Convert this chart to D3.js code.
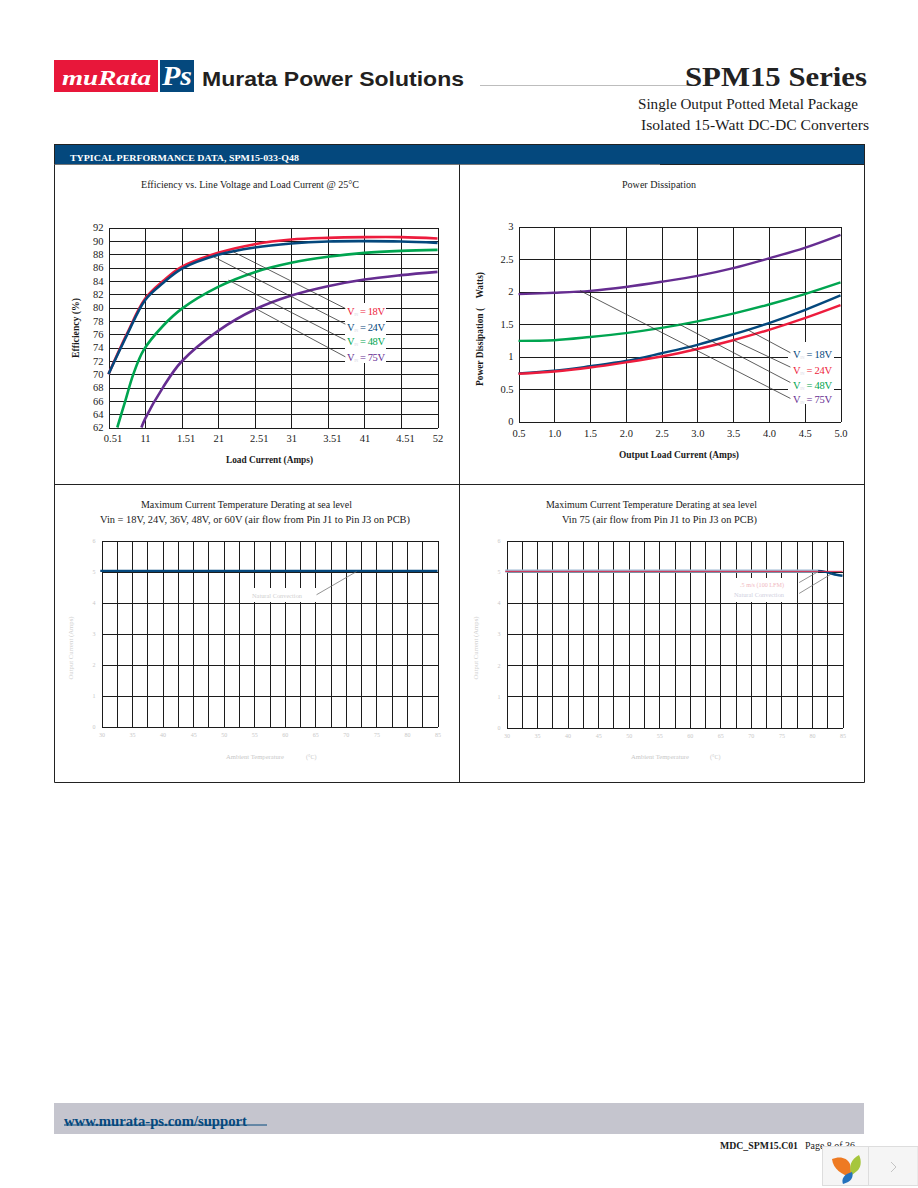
<!DOCTYPE html>
<html>
<head>
<meta charset="utf-8">
<script src="https://cdn.jsdelivr.net/npm/d3@7"></script>
<style>
  body { margin: 0; background: #fff; }
  svg { display: block; }
  text { font-family: "Liberation Serif", serif; fill: #1a1a1a; }
  .grid line { stroke: #1c1c1c; stroke-width: 1; shape-rendering: crispEdges; }
  .grid path { stroke: #1c1c1c; stroke-width: 1; shape-rendering: crispEdges; }
</style>
</head>
<body>
<div id="page"></div>
<script>
// efficiency chart
var effX = [0.5, 0.75, 1, 1.25, 1.5, 2, 2.5, 3, 3.5, 4, 4.5, 5];
var eff18 = [70, 76, 81.3, 84, 86.1, 88.2, 89.5, 90.2, 90.45, 90.55, 90.55, 90.35];
var eff24 = [70, 75.8, 81.1, 83.7, 85.8, 87.9, 89, 89.6, 89.9, 89.95, 89.9, 89.7];
var eff48X = [0.62, 0.73, 0.84, 0.98, 1.25, 1.5, 2, 2.5, 3, 3.5, 4, 4.5, 5];
var eff48 = [62, 66, 70, 73.6, 77.3, 79.8, 83.1, 85.3, 86.7, 87.6, 88.2, 88.5, 88.65];
var eff75X = [0.95, 1, 1.25, 1.5, 2, 2.5, 3, 3.5, 4, 4.5, 5];
var eff75 = [62, 63.3, 68.1, 71.9, 76.5, 79.7, 81.8, 83.2, 84.2, 84.85, 85.35];
var effXTicks = [0.5, 1, 1.5, 2, 2.5, 3, 3.5, 4, 4.5, 5];
var effXLabels = ["0.51", "11", "1.51", "21", "2.51", "31", "3.51", "41", "4.51", "52"];
var effYTicks = [62, 64, 66, 68, 70, 72, 74, 76, 78, 80, 82, 84, 86, 88, 90, 92];

// leader lines as [x1, y1, x2, y2] in chart units
var effLeaders = [
  [2.21, 88.34, 3.74, 79.85],
  [1.94, 87.59, 3.74, 77.5],
  [2.14, 84.1, 3.74, 75.1],
  [2.51, 79.85, 3.74, 72.6]
];

// power dissipation chart
var powX = [0.5, 1, 1.5, 2, 2.5, 3, 3.5, 4, 4.5, 5];
var pow18 = [0.74, 0.78, 0.85, 0.93, 1.05, 1.18, 1.34, 1.515, 1.715, 1.94];
var pow24 = [0.735, 0.77, 0.83, 0.91, 1.0, 1.115, 1.25, 1.41, 1.59, 1.79];
var pow48 = [1.24, 1.25, 1.3, 1.36, 1.44, 1.54, 1.66, 1.8, 1.96, 2.14];
var pow75 = [1.96, 1.98, 2.01, 2.07, 2.15, 2.24, 2.36, 2.51, 2.67, 2.87];
var powXLabels = ["0.5", "1.0", "1.5", "2.0", "2.5", "3.0", "3.5", "4.0", "4.5", "5.0"];
var powYTicks = [0, 0.5, 1, 1.5, 2, 2.5, 3];
var powYLabels = ["0", "0.5", "1", "1.5", "2", "2.5", "3"];
var powLeaders = [
  [3.69, 1.418, 4.3, 1.058],
  [3.5, 1.253, 4.3, 0.837],
  [2.74, 1.5, 4.3, 0.6],
  [1.36, 2.013, 4.3, 0.355]
];

// derating charts
var tempGrid = [30, 32.5, 35, 37.5, 40, 42.5, 45, 47.5, 50, 52.5, 55, 57.5, 60, 62.5, 65, 67.5, 70, 72.5, 75, 77.5, 80, 82.5, 85];
var tempLabels = ["30", "35", "40", "45", "50", "55", "60", "65", "70", "75", "80", "85"];
var ampTicks = [0, 1, 2, 3, 4, 5, 6];
var derateX = [29.8, 85];
var derateY = [5.02, 5.02];
var derate75X = [29.8, 81];
var derate75Y = [5.02, 5.02];
var derateTailX = [81, 82, 83, 84, 85];
var derateTailY = [5.02, 5, 4.95, 4.9, 4.87];
var derateAirX = [29.8, 85];
var derateAirY = [5.01, 5.01];
var derateLeaders = [[65.2, 4.25, 71.76, 5.0]];
var derate75Leaders = [
  [77.9, 4.65, 81, 5.0],
  [77.9, 4.3, 83.2, 4.93]
];

var red = "#ed1c3d";
var blue = "#04487d";
var green = "#00a550";
var purple = "#662d91";

var svg = d3.select("#page")
  .append("svg")
  .attr("width", 918)
  .attr("height", 1188);

// small helper so text can be fitted to the width it has in the scan
function addText(parent, str, x, y, size, opts) {
  opts = opts || {};
  var t = parent.append("text")
    .attr("x", x)
    .attr("y", y)
    .attr("font-size", size)
    .text(str);
  if (opts.bold) t.attr("font-weight", "bold");
  if (opts.italic) t.attr("font-style", "italic");
  if (opts.fill) t.style("fill", opts.fill);
  if (opts.family) t.style("font-family", opts.family);
  if (opts.anchor) t.attr("text-anchor", opts.anchor);
  if (opts.width) t.attr("textLength", opts.width).attr("lengthAdjust", "spacingAndGlyphs");
  return t;
}

// page head
svg.append("rect").attr("x", 54).attr("y", 60).attr("width", 104).attr("height", 32).attr("fill", "#e8173a");
svg.append("rect").attr("x", 160).attr("y", 60).attr("width", 34).attr("height", 32).attr("fill", "#04487d");
addText(svg, "muRata", 62, 85, 22, { bold: true, italic: true, fill: "#fff", width: 89 });
addText(svg, "Ps", 162, 85, 28, { bold: true, italic: true, fill: "#fff", width: 30 });
addText(svg, "Murata Power Solutions", 202, 86, 21, { bold: true, fill: "#231f20", family: "'Liberation Sans', sans-serif", width: 262 });

svg.append("line").attr("x1", 480).attr("x2", 690).attr("y1", 85.5).attr("y2", 85.5).attr("stroke", "#bdbdbd");
addText(svg, "SPM15 Series", 685, 86, 28, { bold: true, fill: "#222", width: 182 });
addText(svg, "Single Output Potted Metal Package", 638, 109, 14.5, { width: 220 });
addText(svg, "Isolated 15-Watt DC-DC Converters", 641, 130, 14.5, { width: 228 });

// frame and header bar
svg.append("rect").attr("x", 54.5).attr("y", 144.5).attr("width", 810).attr("height", 20).attr("fill", "#04487d").attr("stroke", "#222");
svg.append("line").attr("x1", 54).attr("x2", 660).attr("y1", 164.5).attr("y2", 164.5).attr("stroke", "#777");
addText(svg, "TYPICAL PERFORMANCE DATA, SPM15-033-Q48", 70, 160.5, 9, { bold: true, fill: "#fff", width: 229 });

var frame = svg.append("g").attr("stroke", "#222").attr("fill", "none");
frame.append("path").attr("d", "M54.5,164.5V782.5H864.5V164.5");
frame.append("line").attr("x1", 459.5).attr("x2", 459.5).attr("y1", 164.5).attr("y2", 782.5);
frame.append("line").attr("x1", 54.5).attr("x2", 864.5).attr("y1", 484.5).attr("y2", 484.5);

// draws the grid, axes, curves and leaders of one plot
function drawPlot(cfg) {
  var x = d3.scaleLinear().domain(cfg.xDomain).range([cfg.left, cfg.right]);
  var y = d3.scaleLinear().domain(cfg.yDomain).range([cfg.bottom, cfg.top]);

  var xAxis = d3.axisBottom(x)
    .tickValues(cfg.xTicks)
    .tickSize(-(cfg.bottom - cfg.top))
    .tickSizeOuter(0)
    .tickPadding(cfg.xPad)
    .tickFormat(cfg.xFormat);
  var yAxis = d3.axisLeft(y)
    .tickValues(cfg.yTicks)
    .tickSize(-(cfg.right - cfg.left))
    .tickSizeOuter(0)
    .tickPadding(cfg.yPad)
    .tickFormat(cfg.yFormat);

  var gx = svg.append("g").attr("class", "grid")
    .attr("transform", `translate(0, ${cfg.bottom})`)
    .call(xAxis);
  var gy = svg.append("g").attr("class", "grid")
    .attr("transform", `translate(${cfg.left}, 0)`)
    .call(yAxis);

  [gx, gy].forEach(function(g) {
    g.selectAll("text")
      .attr("font-size", cfg.tickSize)
      .style("fill", cfg.tickColor)
      .style("font-family", '"Liberation Serif", serif');
  });

  // the long labels sit a little right of their grid line in the scan
  if (cfg.longLabelShift) {
    gx.selectAll("text")
      .filter(function() { return this.textContent.length > 2; })
      .attr("dx", cfg.longLabelShift);
  }

  // curves first, labels box and leaders on top of them
  var line = d3.line()
    .x(d => x(d[0]))
    .y(d => y(d[1]))
    .curve(d3.curveCatmullRom.alpha(0.5));

  cfg.series.forEach(function(s) {
    svg.append("path")
      .datum(d3.zip(s.x, s.y))
      .attr("d", line)
      .attr("fill", "none")
      .attr("stroke", s.color)
      .attr("stroke-width", s.width);
  });

  if (cfg.box) {
    svg.append("rect")
      .attr("x", cfg.box[0])
      .attr("y", cfg.box[1])
      .attr("width", cfg.box[2])
      .attr("height", cfg.box[3])
      .attr("fill", "#fff");
  }

  svg.selectAll(null)
    .data(cfg.leaders)
    .enter()
    .append("line")
    .attr("x1", d => x(d[0]))
    .attr("y1", d => y(d[1]))
    .attr("x2", d => x(d[2]))
    .attr("y2", d => y(d[3]))
    .attr("stroke", cfg.leaderColor)
    .attr("stroke-width", 0.8);
}

function vinLabel(str, x, y, color, width) {
  var t = svg.append("text")
    .attr("x", x)
    .attr("y", y)
    .attr("font-size", 10.5)
    .attr("textLength", width)
    .style("fill", color);
  t.append("tspan").text("V");
  t.append("tspan").attr("font-size", 4).attr("dy", 1).style("fill", "#d8d8e4").text("IN");
  t.append("tspan").attr("dy", -1).text(" = " + str);
}

function rotated(str, x, y, size, opts) {
  var t = addText(svg, str, 0, 0, size, opts);
  t.attr("text-anchor", "middle").attr("transform", `translate(${x}, ${y}) rotate(-90)`);
  return t;
}

// efficiency
drawPlot({
  left: 108.5, right: 437.5, top: 227.5, bottom: 427.5,
  xDomain: [0.5, 5], yDomain: [62, 92],
  xTicks: effXTicks, yTicks: effYTicks,
  xFormat: (d, i) => effXLabels[i], yFormat: d => d,
  xPad: 7, yPad: 5, tickSize: 10.5, tickColor: "#1a1a1a", longLabelShift: 4,
  series: [
    { x: effX, y: eff18, color: red, width: 2.6 },
    { x: effX, y: eff24, color: blue, width: 2.6 },
    { x: eff48X, y: eff48, color: green, width: 2.6 },
    { x: eff75X, y: eff75, color: purple, width: 2.6 }
  ],
  box: [345, 303, 41, 60],
  leaders: effLeaders, leaderColor: "#333"
});
addText(svg, "Efficiency vs. Line Voltage and Load Current @ 25°C", 141, 188, 10.5, { width: 218 });
addText(svg, "Load Current (Amps)", 226, 463, 9.5, { bold: true, width: 87 });
rotated("Efficiency (%)", 79, 328, 9.5, { bold: true, width: 60 });
vinLabel("18V", 347, 315, red, 38);
vinLabel("24V", 347, 331, blue, 38);
vinLabel("48V", 347, 345, green, 38);
vinLabel("75V", 347, 361, purple, 38);

// power dissipation
drawPlot({
  left: 518.5, right: 840.5, top: 226.5, bottom: 421.5,
  xDomain: [0.5, 5], yDomain: [0, 3],
  xTicks: powX, yTicks: powYTicks,
  xFormat: (d, i) => powXLabels[i], yFormat: (d, i) => powYLabels[i],
  xPad: 8, yPad: 5, tickSize: 10.5, tickColor: "#1a1a1a",
  series: [
    { x: powX, y: pow75, color: purple, width: 2.4 },
    { x: powX, y: pow48, color: green, width: 2.4 },
    { x: powX, y: pow18, color: blue, width: 2.4 },
    { x: powX, y: pow24, color: red, width: 2.4 }
  ],
  box: [788, 342, 46, 62],
  leaders: powLeaders, leaderColor: "#333"
});
addText(svg, "Power Dissipation", 622, 188, 10.5, { width: 74 });
addText(svg, "Output Load Current (Amps)", 619, 458, 9.5, { bold: true, width: 120 });
rotated("Power Dissipation (\u00a0\u00a0\u00a0\u00a0Watts)", 483, 329, 9.5, { bold: true, width: 114 });
vinLabel("18V", 793, 358, blue, 39);
vinLabel("24V", 793, 374, red, 39);
vinLabel("48V", 793, 389, green, 39);
vinLabel("75V", 793, 403, purple, 39);

// derating, both plots share the faint axis text
var tempFormat = d => (d % 5 === 0 ? tempLabels[(d - 30) / 5] : "");

drawPlot({
  left: 101.5, right: 437.5, top: 540.5, bottom: 726.5,
  xDomain: [30, 85], yDomain: [0, 6],
  xTicks: tempGrid, yTicks: ampTicks,
  xFormat: tempFormat, yFormat: d => d,
  xPad: 6, yPad: 6, tickSize: 6, tickColor: "#c8c8c8",
  series: [{ x: derateX, y: derateY, color: blue, width: 2.2 }],
  box: [253, 588, 64, 14],
  leaders: derateLeaders, leaderColor: "#777"
});
addText(svg, "Maximum Current Temperature Derating at sea level", 141, 508, 10.5, { width: 211 });
addText(svg, "Vin = 18V, 24V, 36V, 48V, or 60V (air flow from Pin J1 to Pin J3 on PCB)", 100, 523, 10.5, { width: 310 });
addText(svg, "Natural Convection", 252, 598, 6, { fill: "#cfcfcf", width: 50 });
addText(svg, "Ambient Temperature", 226, 759, 6, { fill: "#c8c8c8", width: 58 });
addText(svg, "(°C)", 306, 759, 6, { fill: "#c8c8c8" });
rotated("Output Current (Amps)", 73, 648, 6, { fill: "#d0d0d0", width: 63 });

drawPlot({
  left: 506.5, right: 842.5, top: 540.5, bottom: 727.5,
  xDomain: [30, 85], yDomain: [0, 6],
  xTicks: tempGrid, yTicks: ampTicks,
  xFormat: tempFormat, yFormat: d => d,
  xPad: 6, yPad: 6, tickSize: 6, tickColor: "#c8c8c8",
  series: [
    { x: derate75X, y: derate75Y, color: "#9dbad3", width: 3.2 },
    { x: derateTailX, y: derateTailY, color: blue, width: 2.4 },
    { x: derateAirX, y: derateAirY, color: "#d9254a", width: 1 }
  ],
  box: [735, 578, 62, 24],
  leaders: derate75Leaders, leaderColor: "#777"
});
addText(svg, "Maximum Current Temperature Derating at sea level", 546, 508, 10.5, { width: 211 });
addText(svg, "Vin 75 (air flow from Pin J1 to Pin J3 on PCB)", 562, 523, 10.5, { width: 195 });
addText(svg, ".5 m/s (100 LFM)", 740, 587, 6, { fill: "#f0b8c0", width: 44 });
addText(svg, "Natural Convection", 734, 597, 6, { fill: "#cfcfe0", width: 50 });
addText(svg, "Ambient Temperature", 631, 759, 6, { fill: "#c8c8c8", width: 58 });
addText(svg, "(°C)", 710, 759, 6, { fill: "#c8c8c8" });
rotated("Output Current (Amps)", 478, 648, 6, { fill: "#d0d0d0", width: 63 });

// footer
svg.append("rect").attr("x", 54).attr("y", 1103).attr("width", 810).attr("height", 31).attr("fill", "#c5c5ce");
addText(svg, "www.murata-ps.com/support", 64, 1126, 14, { bold: true, fill: "#04487d", width: 183 });
svg.append("line").attr("x1", 64).attr("x2", 267).attr("y1", 1125).attr("y2", 1125).attr("stroke", "#04487d");
addText(svg, "MDC_SPM15.C01", 720, 1149, 9.5, { bold: true, width: 78 });
addText(svg, "Page 8 of 36", 805, 1149, 9.5, { width: 50 });

// viewer badge sitting over the corner of the page
svg.append("rect").attr("x", 822.5).attr("y", 1146.5).attr("width", 95.5).attr("height", 39).attr("fill", "#f5f5f5").attr("stroke", "#ddd");
svg.append("line").attr("x1", 868.5).attr("x2", 868.5).attr("y1", 1146.5).attr("y2", 1185.5).attr("stroke", "#ddd");
svg.append("path").attr("d", "M891,1162l5,5l-5,5").attr("fill", "none").attr("stroke", "#c4c4c4");
svg.append("path").attr("d", "M832,1159c7,-3 15,-2 18,5c1,4 1,9 1,13c-9,-2 -18,-8 -19,-18z").attr("fill", "#ee7a22");
svg.append("path").attr("d", "M859,1155c3,6 2,13 -2,16l-5,4c-4,-8 -1,-16 7,-20z").attr("fill", "#a6c63c");
svg.append("path").attr("d", "M852,1172c2,5 -1,10 -9,12c-2,-5 1,-10 9,-12z").attr("fill", "#2472bd");
</script>
</body>
</html>
